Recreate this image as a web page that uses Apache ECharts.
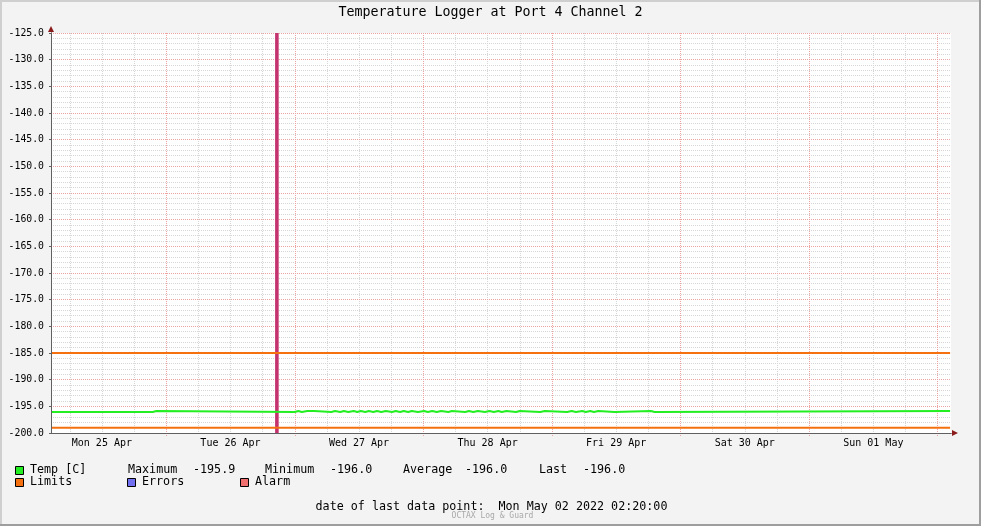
<!DOCTYPE html>
<html><head><meta charset="utf-8">
<script src="https://cdn.jsdelivr.net/npm/echarts@6/dist/echarts.min.js"></script>
<style>html,body{margin:0;padding:0;background:#f3f3f3}#c{width:981px;height:526px}</style>
</head><body><div id="c"></div>
<script>
// ---------------- data ----------------
const chartTitle = 'Temperature Logger at Port 4 Channel 2';
const rangeStart = '2022-04-25 02:30';
const rangeEnd = '2022-05-02 02:30';
const yMin = -200, yMax = -125;
const dayNoons = ['2022-04-25 12:00','2022-04-26 12:00','2022-04-27 12:00','2022-04-28 12:00','2022-04-29 12:00','2022-04-30 12:00','2022-05-01 12:00'];
const dayLabels = ['Mon 25 Apr','Tue 26 Apr','Wed 27 Apr','Thu 28 Apr','Fri 29 Apr','Sat 30 Apr','Sun 01 May'];
const midnightTicks = ['2022-04-26 00:00','2022-04-27 00:00','2022-04-28 00:00','2022-04-29 00:00','2022-04-30 00:00','2022-05-01 00:00','2022-05-02 00:00'];

// Temperature change points (value holds until the next time)
const tempTimes = [
 '2022-04-25 02:30','2022-04-25 21:30','2022-04-25 22:10',
 '2022-04-27 00:00','2022-04-27 00:40','2022-04-27 01:20','2022-04-27 02:20','2022-04-27 02:40','2022-04-27 03:40',
 '2022-04-27 06:50','2022-04-27 07:30','2022-04-27 08:30','2022-04-27 09:10','2022-04-27 10:00','2022-04-27 11:00',
 '2022-04-27 11:40','2022-04-27 12:20','2022-04-27 13:10','2022-04-27 13:50','2022-04-27 14:40','2022-04-27 15:20',
 '2022-04-27 16:10','2022-04-27 17:00','2022-04-27 18:10','2022-04-27 18:50','2022-04-27 19:40','2022-04-27 20:20',
 '2022-04-27 21:10','2022-04-27 21:50','2022-04-27 23:00','2022-04-28 00:10','2022-04-28 00:50','2022-04-28 01:40',
 '2022-04-28 02:30','2022-04-28 03:20','2022-04-28 04:40','2022-04-28 05:20','2022-04-28 07:50','2022-04-28 08:30',
 '2022-04-28 09:20','2022-04-28 10:10','2022-04-28 11:30','2022-04-28 12:20','2022-04-28 13:10','2022-04-28 14:00',
 '2022-04-28 14:40','2022-04-28 15:30','2022-04-28 17:20','2022-04-28 18:00','2022-04-28 21:50','2022-04-28 22:40',
 '2022-04-29 02:50','2022-04-29 03:40','2022-04-29 04:30','2022-04-29 05:40','2022-04-29 06:20','2022-04-29 07:10',
 '2022-04-29 07:50','2022-04-29 08:40','2022-04-29 11:40','2022-04-29 18:30','2022-04-29 19:10','2022-05-02 02:20'
];
const tempValues = [
 -196.06,-195.88,-196.06,
 -195.88,-196.06,-195.88,-196.06,-195.88,-196.06,
 -195.88,-196.06,-195.88,-196.06,-195.88,-196.06,
 -195.88,-196.06,-195.88,-196.06,-195.88,-196.06,
 -195.88,-196.06,-195.88,-196.06,-195.88,-196.06,
 -195.88,-196.06,-195.88,-196.06,-195.88,-196.06,
 -195.88,-196.06,-195.88,-196.06,-195.88,-196.06,
 -195.88,-196.06,-195.88,-196.06,-195.88,-196.06,
 -195.88,-196.06,-195.88,-196.06,-195.88,-196.06,
 -195.88,-196.06,-195.88,-196.06,-195.88,-196.06,
 -195.88,-196.06,-195.88,-196.06,-195.88,-195.88
];
const limitTimes = ['2022-04-25 02:30','2022-05-02 02:20'];
const limitHigh = -185;
const limitLow = -199;
const alarmStarts = ['2022-04-26 20:20'];
const alarmEnds = ['2022-04-26 21:00'];
const statNames = ['Maximum','Minimum','Average','Last'];
const statValues = ['-195.9','-196.0','-196.0','-196.0'];
const legendNames = ['Temp [C]','Limits','Errors','Alarm'];
const lastDataPoint = 'Mon May 02 2022 02:20:00';
const footer = 'OCTAX Log & Guard';

// ---------------- helpers ----------------
function ts(s){const [d,h]=s.split(' ');const [Y,M,D]=d.split('-').map(Number);const [hh,mm]=h.split(':').map(Number);return Date.UTC(Y,M-1,D,hh,mm);}
const xMin = ts(rangeStart), xMax = ts(rangeEnd);
const sixHour = [];
for (let t = ts('2022-04-25 06:00'); t < xMax; t += 6*3600*1000) sixHour.push(t);
const noonVals = dayNoons.map(ts);
const midVals = midnightTicks.map(ts);

const FONT = 'DejaVu Sans Mono';
const cGreen = '#22ee22', cOrange = '#f5700f', cBlue = '#7070f0', cPink = '#f07070', cAlarm = '#c4336e';
const cMinor = '#d6d6d6', cMajor = '#eba3a3';

const baseX = {type:'value', min:xMin, max:xMax, position:'bottom',
  axisLine:{show:false, onZero:false}, axisTick:{show:false}, axisLabel:{show:false}, splitLine:{show:false}};
const baseY = {type:'value', min:yMin, max:yMax, position:'left',
  axisLine:{show:false, onZero:false}, axisTick:{show:false}, axisLabel:{show:false}, splitLine:{show:false}};

const xAxes = [
  Object.assign({}, baseX, {z:0,
    axisTick:{show:false, customValues:sixHour},
    splitLine:{show:true, lineStyle:{color:cMinor, width:1, type:[1,1]}}}),
  Object.assign({}, baseX, {z:1,
    axisLine:{show:true, onZero:false, symbol:['none','triangle'], symbolSize:[6,6], symbolOffset:[0,4], lineStyle:{color:'#8b1a1a', width:1}},
    axisTick:{show:true, length:3, customValues:midVals, lineStyle:{color:cMajor, type:[1,1]}},
    axisLabel:{show:true, customValues:noonVals, margin:5, color:'#000', fontFamily:FONT, fontSize:10,
      formatter:(v)=>{const i=noonVals.indexOf(v);return i>=0?dayLabels[i]:'';}},
    splitLine:{show:true, lineStyle:{color:cMajor, width:1, type:[1,1]}}}),
  Object.assign({}, baseX, {z:5,
    axisLine:{show:true, onZero:false, lineStyle:{color:'#606060', width:1}}})
];
const yAxes = [
  Object.assign({}, baseY, {z:0, interval:1,
    splitLine:{show:true, lineStyle:{color:cMinor, width:1, type:[1,1]}}}),
  Object.assign({}, baseY, {z:1, interval:5,
    axisLine:{show:true, onZero:false, symbol:['none','triangle'], symbolSize:[6,6], symbolOffset:[0,4], lineStyle:{color:'#8b1a1a', width:1}},
    axisTick:{show:true, length:2, lineStyle:{color:'#606060'}},
    axisLabel:{show:true, margin:7, color:'#000', fontFamily:FONT, fontSize:9.8, formatter:(v)=>v.toFixed(1)},
    splitLine:{show:true, lineStyle:{color:cMajor, width:1, type:[1,1]}}}),
  Object.assign({}, baseY, {z:5,
    axisLine:{show:true, onZero:false, lineStyle:{color:'#606060', width:1}}})
];

const tempData = tempTimes.map((t,i)=>[ts(t), tempValues[i]]);
const limitHighData = limitTimes.map(t=>[ts(t), limitHigh]);
const limitLowData = limitTimes.map(t=>[ts(t), limitLow]);
const alarmAreas = alarmStarts.map((s,i)=>[{xAxis:ts(s)},{xAxis:ts(alarmEnds[i])}]);

// ---------------- graphics (legend, title, frame) ----------------
const W = 981, H = 526;
function txt(x,y,text,size,align){align=align||'left';return {type:'text', z:100, style:{x:x, y:y, text:text, font:size+'px "'+FONT+'"', fill:'#000', textVerticalAlign:'middle', verticalAlign:'middle', textAlign:align, align:align}};}
function box(x,y,color){return {type:'rect', z:100, shape:{x:x+0.5, y:y+0.5, width:8, height:8}, style:{fill:color, stroke:'#000', lineWidth:1}};}
const LS = 11.7;
const statX = [[128,193],[265,330],[403,465],[539,583]];
const graphics = [
  {type:'rect', z:100, shape:{x:0,y:0,width:W,height:2}, style:{fill:'#cfcfcf'}},
  {type:'rect', z:100, shape:{x:0,y:0,width:2,height:H}, style:{fill:'#cfcfcf'}},
  {type:'rect', z:101, shape:{x:W-2,y:0,width:2,height:H}, style:{fill:'#9e9e9e'}},
  {type:'rect', z:101, shape:{x:0,y:H-2,width:W,height:2}, style:{fill:'#9e9e9e'}},
  txt(490.5, 13, chartTitle, 13.3, 'center'),
  box(15,466,cGreen), txt(30,470,legendNames[0],LS),
  box(15,478,cOrange), txt(30,482,legendNames[1],LS),
  box(127,478,cBlue), txt(142,482,legendNames[2],LS),
  box(240,478,cPink), txt(255,482,legendNames[3],LS)
];
statNames.forEach((n,i)=>{graphics.push(txt(statX[i][0],470,n,LS)); graphics.push(txt(statX[i][1],470,statValues[i],LS));});
graphics.push(txt(491.5, 506.5, 'date of last data point:  '+lastDataPoint, LS, 'center'));
const ft = txt(492.5, 515.5, footer, 8, 'center'); ft.style.fill = '#a8a8a8'; graphics.push(ft);

const chart = echarts.init(document.getElementById('c'), null, {renderer:'canvas'});
chart.setOption({
  backgroundColor:'#f3f3f3',
  animation:false,
  grid:{left:51, top:33, width:900, height:400, show:true, backgroundColor:'#ffffff', borderWidth:0},
  xAxis:xAxes,
  yAxis:yAxes,
  series:[
    {name:'Alarm', type:'line', data:[], xAxisIndex:0, yAxisIndex:0, z:2, silent:true,
      markArea:{silent:true, itemStyle:{color:cAlarm, opacity:1}, data:alarmAreas}},
    {name:'Limits high', type:'line', data:limitHighData, xAxisIndex:0, yAxisIndex:0, z:3, symbol:'none', silent:true,
      lineStyle:{color:cOrange, width:2}},
    {name:'Limits low', type:'line', data:limitLowData, xAxisIndex:0, yAxisIndex:0, z:3, symbol:'none', silent:true,
      lineStyle:{color:cOrange, width:2}},
    {name:'Temp [C]', type:'line', data:tempData, xAxisIndex:0, yAxisIndex:0, z:4, symbol:'none', step:'end', silent:true,
      lineStyle:{color:cGreen, width:2}}
  ],
  graphic:graphics
});
</script></body></html>
